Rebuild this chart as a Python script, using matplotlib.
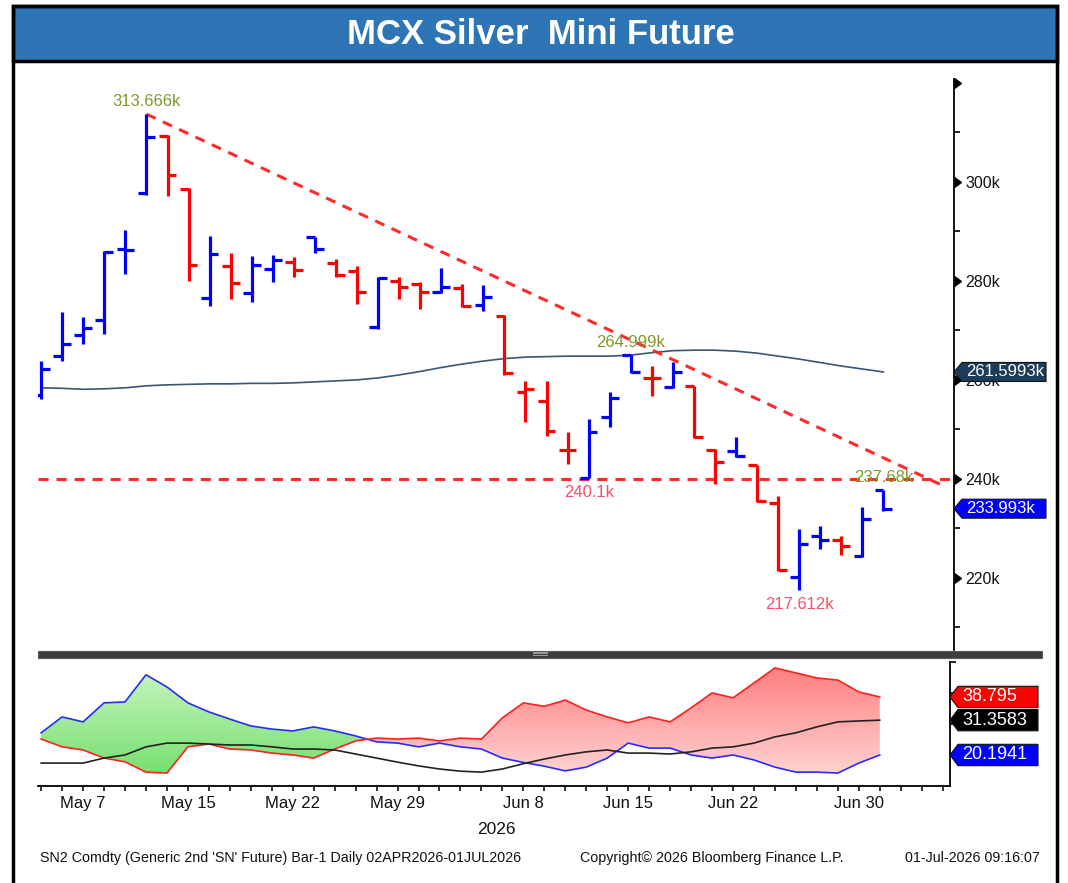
import numpy as np
import matplotlib
matplotlib.use("Agg")
import matplotlib.pyplot as plt
from matplotlib.path import Path
from matplotlib.patches import Rectangle, PathPatch
from matplotlib.colors import LinearSegmentedColormap
import matplotlib.transforms as mtransforms

# ---------------- data ----------------
opens = [257.0, 264.8, 269.1, 272.1, 286.5, 297.8, 309.3, 298.6, 276.6, 283.0,
         277.6, 282.4, 283.8, 288.9, 283.6, 282.0, 270.7, 280.0, 279.4, 277.8,
         278.6, 275.2, 272.9, 257.6, 255.8, 245.9, 240.1, 252.5, 264.999, 260.4,
         258.6, 258.8, 245.9, 245.7, 242.8, 235.2, 220.2, 228.5, 227.7, 224.4, 237.68]
highs = [263.8, 273.7, 272.7, 286.1, 290.3, 313.666, 309.5, 298.8, 289.1, 285.7,
         285.1, 285.3, 284.8, 288.9, 284.4, 283.0, 280.8, 280.8, 279.8, 282.6,
         279.4, 279.2, 273.1, 259.8, 259.8, 249.5, 252.1, 257.6, 264.999, 262.8,
         263.6, 258.8, 246.1, 248.5, 242.8, 236.6, 229.9, 230.5, 228.5, 234.3, 237.68]
lows = [256.2, 263.8, 267.3, 269.3, 281.4, 297.4, 297.2, 280.0, 275.0, 276.4,
        275.8, 279.8, 280.8, 285.7, 280.8, 275.4, 270.3, 276.4, 274.3, 277.6,
        274.7, 273.9, 261.0, 251.5, 248.7, 243.0, 240.1, 250.5, 261.4, 256.8,
        258.4, 248.3, 239.0, 244.4, 235.4, 221.4, 217.612, 225.9, 224.6, 224.2, 233.5]
closes = [262.2, 267.3, 270.5, 285.9, 286.3, 309.1, 301.4, 283.2, 285.5, 279.6,
          283.2, 284.2, 282.2, 286.5, 281.2, 277.8, 280.6, 278.8, 277.8, 278.8,
          274.9, 276.8, 261.4, 258.2, 249.7, 245.9, 249.5, 256.4, 261.6, 260.4,
          261.6, 248.5, 243.4, 244.6, 235.6, 221.6, 226.9, 227.7, 226.5, 231.9, 233.993]
moving_avg = [258.4, 258.3, 258.1, 258.2, 258.4, 258.8, 259.0, 259.1, 259.2, 259.2,
              259.3, 259.3, 259.4, 259.6, 259.8, 260.0, 260.4, 261.0, 261.7, 262.5,
              263.2, 263.8, 264.3, 264.6, 264.7, 264.8, 264.8, 264.8, 265.0, 265.5,
              265.9, 266.0, 266.0, 265.8, 265.4, 264.8, 264.2, 263.5, 262.8, 262.2, 261.5993]
di_plus = [27.3, 32.4, 30.8, 36.9, 37.2, 45.9, 42.0, 36.9, 34.0, 31.7,
           29.5, 28.5, 27.9, 29.2, 27.9, 26.3, 24.4, 24.0, 22.8, 24.0,
           22.8, 22.1, 19.2, 17.8, 16.6, 15.1, 16.3, 19.2, 24.0, 22.4,
           22.4, 20.2, 19.2, 20.2, 18.6, 16.3, 14.7, 14.7, 14.4, 17.6, 20.1941]
di_minus = [25.3, 22.8, 21.8, 19.2, 18.0, 14.7, 14.4, 22.8, 23.7, 22.1,
            21.8, 20.8, 20.2, 19.2, 22.1, 24.7, 25.6, 25.3, 25.6, 24.7,
            25.6, 25.3, 32.1, 36.9, 35.8, 37.8, 34.6, 32.4, 30.5, 32.4,
            30.8, 35.3, 40.1, 38.5, 43.3, 48.1, 46.5, 44.9, 44.2, 40.4, 38.795]
adx = [17.6, 17.6, 17.6, 19.2, 20.2, 22.8, 24.0, 24.0, 23.7, 23.4,
       23.4, 22.8, 22.1, 22.1, 21.8, 20.5, 19.2, 17.9, 16.7, 15.7,
       15.0, 14.7, 15.7, 17.4, 18.9, 20.2, 21.2, 21.8, 20.8, 20.8,
       20.5, 21.2, 22.4, 22.8, 24.0, 26.0, 27.3, 29.2, 30.8, 31.1, 31.3583]

date_label_idx = [2, 7, 12, 17, 23, 28, 33, 39]
date_labels = ["May 7", "May 15", "May 22", "May 29", "Jun 8", "Jun 15", "Jun 22", "Jun 30"]
n_axis_days = 44  # trading-day slots on the axis (incl. 3 empty after last bar)

support_level = 240.0
trend_x = [5, 43]
trend_y = [313.666, 238.3]

high_marks = [5, 28, 40]
low_marks = [26, 36]

price_ticks = [220, 240, 260, 280, 300, 320]
price_minor = [210, 230, 250, 270, 290, 310]

# ---------------- styling ----------------
W, H = 1068, 883
FONT = ["Liberation Sans", "DejaVu Sans"]
plt.rcParams["font.family"] = FONT

BLUE = "#0000ff"
RED = "#ff0000"
OLIVE = "#7c9a2a"
PINK = "#f4506a"

fig = plt.figure(figsize=(W / 100, H / 100), dpi=100)
fig.patch.set_facecolor("white")

x = np.arange(len(closes))
XL = (-0.15, 43.35)


def fx(px):
    return px / W


def fy(py):
    return 1 - py / H


# ---------- price panel ----------
ax = fig.add_axes([fx(38), fy(650), fx(954) - fx(38), fy(62) - fy(650)])
ax.set_xlim(*XL)
ax.set_ylim(205.45, 324.2)
for s in ["left", "top", "bottom"]:
    ax.spines[s].set_visible(False)
ax.spines["right"].set_linewidth(1.3)
ax.spines["right"].set_bounds(205.45, 320.7)
ax.set_xticks([])
ax.yaxis.tick_right()
ax.set_yticks(price_ticks)
ax.set_yticklabels([f"{t}k" if t != 320 else "" for t in price_ticks])
ax.set_yticks(price_minor, minor=True)
ax.tick_params(axis="y", which="major", length=0, pad=8, labelsize=11.5, colors="#111111")
ax.tick_params(axis="y", which="minor", length=4, width=1.2, direction="out")

blend = mtransforms.blended_transform_factory(ax.transAxes, ax.transData)
ax.plot(np.ones(len(price_ticks)), price_ticks, linestyle="none", marker=9,
        markersize=7, color="black", transform=blend, clip_on=False, zorder=5)

# moving average
ax.plot(x, moving_avg, color="#3a5670", lw=1.2, zorder=2)

# support and trend lines
ax.axhline(support_level, color="#ff2a2a", lw=2.2, dashes=(3.3, 2.6), zorder=3)
ax.plot(trend_x, trend_y, color="#ff2a2a", lw=2.2, dashes=(3.3, 2.6), zorder=3)

# OHLC bars (colour by close vs previous close)
tick_w = 0.42
for i in range(len(closes)):
    up = True if i == 0 else closes[i] >= closes[i - 1]
    c = BLUE if up else RED
    ax.vlines(i, lows[i], highs[i], color=c, lw=2.3, zorder=4, capstyle="butt")
    ax.hlines(opens[i], i - tick_w, i, color=c, lw=2.3, zorder=4)
    ax.hlines(closes[i], i, i + tick_w, color=c, lw=2.3, zorder=4)

for i in high_marks:
    ax.annotate(f"{highs[i]:g}k", xy=(i, highs[i]), xytext=(0, 4), textcoords="offset points",
                ha="center", va="bottom", color=OLIVE, fontsize=12, zorder=6)
for i in low_marks:
    ax.annotate(f"{lows[i]:g}k", xy=(i, lows[i]), xytext=(0, -5), textcoords="offset points",
                ha="center", va="top", color=PINK, fontsize=12, zorder=6)


def tag_style(total_w):
    def style(x0, y0, width, height, mutation_size):
        pad = 0.12 * mutation_size
        y0 = y0 - pad
        h = height + 2 * pad
        left = x0 - 4
        tip = left - 8
        right = left + total_w
        verts = [(tip, y0 + h / 2), (left, y0 + h), (right, y0 + h), (right, y0),
                 (left, y0), (tip, y0 + h / 2)]
        codes = [Path.MOVETO] + [Path.LINETO] * 4 + [Path.CLOSEPOLY]
        return Path(verts, codes)
    return style


def add_tag(axis, value, text, fc, width_px=82, fs=12.5):
    tr = mtransforms.blended_transform_factory(axis.transAxes, axis.transData)
    axis.annotate(text, xy=(1.0, value), xycoords=tr, xytext=(12, 0), textcoords="offset pixels",
                  ha="left", va="center", color="white", fontsize=fs, zorder=10,
                  annotation_clip=False,
                  bbox=dict(boxstyle=tag_style(width_px), fc=fc, ec="#111111", lw=0.8))


add_tag(ax, moving_avg[-1], f"{moving_avg[-1]:.4f}k", "#1c3d5a", 84, 12)
add_tag(ax, closes[-1], f"{closes[-1]:.3f}k", BLUE, 84, 12)

# ---------- indicator panel ----------
ax2 = fig.add_axes([fx(38), fy(786), fx(950) - fx(38), fy(662) - fy(786)])
ax2.set_xlim(*XL)
YL2 = (10.25, 50.0)
ax2.set_ylim(*YL2)
for s in ["left", "top"]:
    ax2.spines[s].set_visible(False)
ax2.spines["right"].set_linewidth(1.3)
ax2.spines["bottom"].set_linewidth(1.3)
ax2.yaxis.tick_right()
ax2.set_yticks([20, 30, 40, 50])
ax2.set_yticklabels([])
ax2.tick_params(axis="y", length=4, width=1.2, direction="out")
ax2.set_xticks(np.arange(n_axis_days))
lbls = [""] * n_axis_days
for k, t in zip(date_label_idx, date_labels):
    lbls[k] = t
ax2.set_xticklabels(lbls)
ax2.tick_params(axis="x", length=3.6, width=1.2, direction="out", pad=3.5,
                labelsize=12, colors="#111111")

dp = np.array(di_plus)
dm = np.array(di_minus)


def gradient_fill(where, c_top, c_bot):
    coll = ax2.fill_between(x, dp, dm, where=where, interpolate=True,
                            facecolor="none", edgecolor="none")
    path = Path.make_compound_path(*coll.get_paths())
    patch = PathPatch(path, facecolor="none", edgecolor="none", transform=ax2.transData)
    ax2.add_patch(patch)
    cmap = LinearSegmentedColormap.from_list("g", [c_bot, c_top])
    grad = np.linspace(0, 1, 256).reshape(-1, 1)
    im = ax2.imshow(grad, aspect="auto", cmap=cmap, origin="lower",
                    extent=[XL[0], XL[1], YL2[0], YL2[1]], zorder=1, interpolation="bilinear")
    im.set_clip_path(patch)


gradient_fill(dp >= dm, "#cdf8c6", "#6edc66")
gradient_fill(dm >= dp, "#ff7a7a", "#ffdcdc")
ax2.set_xlim(*XL)
ax2.set_ylim(*YL2)

ax2.plot(x, dp, color="#2a2aff", lw=1.2, zorder=3)
ax2.plot(x, dm, color="#ff2020", lw=1.2, zorder=3)
ax2.plot(x, adx, color="#222222", lw=1.2, zorder=3)

add_tag(ax2, dm[-1], f"{dm[-1]:.3f}", RED, 80, 13)
add_tag(ax2, adx[-1], f"{adx[-1]:.4f}", "black", 80, 13)
add_tag(ax2, dp[-1], f"{dp[-1]:.4f}", BLUE, 80, 13)

# ---------- frame, title, separator, footer ----------
fig.patches.append(Rectangle((fx(13), fy(61)), fx(1057) - fx(13), fy(6) - fy(61),
                             transform=fig.transFigure, facecolor="#2e75b6",
                             edgecolor="black", lw=2.5, zorder=0))
fig.patches.append(Rectangle((fx(13), -0.05), fx(1057) - fx(13), fy(6) + 0.05,
                             transform=fig.transFigure, facecolor="none",
                             edgecolor="black", lw=2.5, zorder=0))
fig.text(fx(541), fy(35), "MCX Silver  Mini Future", color="white", fontsize=25,
         fontweight="bold", ha="center", va="center")

fig.patches.append(Rectangle((fx(38), fy(658)), fx(1042) - fx(38), fy(651) - fy(658),
                             transform=fig.transFigure, facecolor="#3d3d3d",
                             edgecolor="#5a5a5a", lw=0.8, zorder=5))
for gy in (653.5, 656):
    fig.patches.append(Rectangle((fx(533), fy(gy)), fx(15), 1.2 / H,
                                 transform=fig.transFigure, facecolor="#9a9a9a",
                                 edgecolor="none", zorder=6))

fig.text(fx(496), fy(829), "2026", fontsize=12.5, ha="center", va="center", color="#111111")
fig.text(fx(40), fy(858), "SN2 Comdty (Generic 2nd 'SN' Future) Bar-1 Daily 02APR2026-01JUL2026",
         fontsize=10.3, ha="left", va="center", color="#111111")
fig.text(fx(580), fy(858), "Copyright\u00a9 2026 Bloomberg Finance L.P.",
         fontsize=10.3, ha="left", va="center", color="#111111")
fig.text(fx(1040), fy(858), "01-Jul-2026 09:16:07",
         fontsize=10.3, ha="right", va="center", color="#111111")

fig.savefig("out.png", dpi=100, facecolor="white")
